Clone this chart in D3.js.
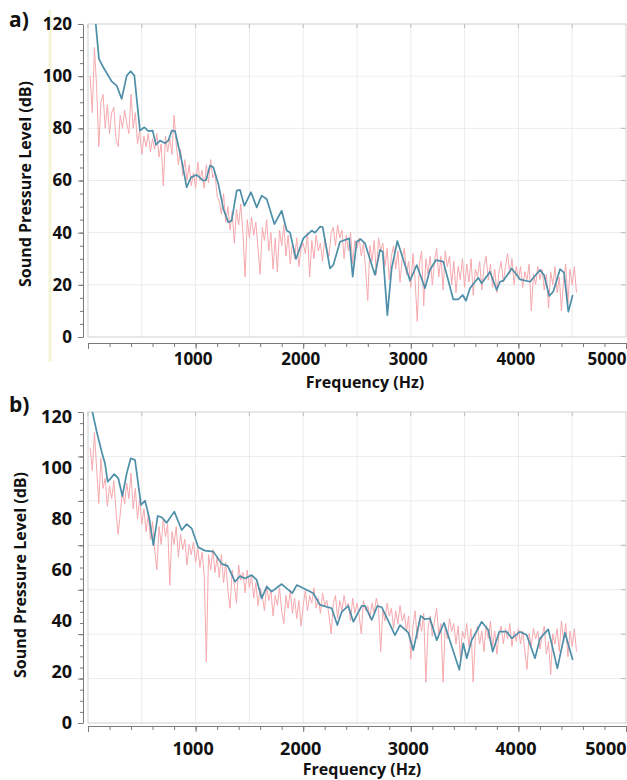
<!DOCTYPE html>
<html>
<head>
<meta charset="utf-8">
<script src="https://cdn.jsdelivr.net/npm/d3@7"></script>
<style>
  body { margin: 0; background: #fff; }
  svg text { font-family: "Open Sans", sans-serif; font-weight: 700; fill: #111; }
</style>
</head>
<body>
<script>
// ---- data ----
// smoothed spectrum (blue), panel a
var blueFreqA = [50, 102, 142, 220, 266, 313, 360, 397, 431, 483, 524, 561, 601, 632, 669, 716, 747, 778, 809, 871, 917, 957, 1010, 1072, 1097, 1134, 1165, 1211, 1258, 1304, 1335, 1382, 1413, 1453, 1515, 1568, 1614, 1661, 1732, 1800, 1847, 1877, 1933, 2001, 2079, 2110, 2156, 2181, 2249, 2280, 2342, 2428, 2460, 2497, 2534, 2574, 2667, 2714, 2739, 2782, 2822, 2875, 2993, 3055, 3132, 3178, 3234, 3302, 3395, 3441, 3482, 3513, 3550, 3627, 3659, 3736, 3798, 3829, 3860, 3938, 4015, 4108, 4201, 4238, 4287, 4324, 4387, 4424, 4464, 4505];
var blueDbA = [130, 106.6, 103.4, 98.0, 96.4, 91.3, 100.2, 101.9, 100.2, 79.1, 80.4, 78.9, 79.1, 73.7, 75.3, 74.3, 75.3, 79.1, 78.9, 67.6, 57.4, 61.2, 62.2, 59.9, 60.2, 65.7, 65.1, 58.7, 49.1, 44.0, 44.6, 56.1, 56.4, 50.3, 55.5, 49.7, 54.2, 52.9, 43.3, 48.4, 40.8, 40.1, 29.9, 37.8, 40.8, 40.0, 42.3, 42.1, 26.3, 27.6, 36.5, 37.8, 23.1, 36.5, 37.5, 35.9, 23.8, 33.4, 32.7, 8.4, 26.3, 36.8, 21.6, 27.6, 18.7, 25.7, 29.5, 28.9, 14.4, 14.4, 16.1, 13.9, 18.7, 22.7, 20.6, 25.0, 18.0, 21.2, 21.6, 26.3, 22.1, 21.2, 25.7, 23.8, 15.7, 17.4, 26.0, 24.7, 9.7, 16.1];

// raw spectrum (pink), panel a, bins of 20 Hz starting at 20 Hz
var pinkDbA = [100, 86, 111, 96, 73, 90, 93, 80, 89, 78, 86, 88, 76, 73, 85, 80, 87, 82, 78, 93, 80, 86, 74, 79, 70,
  77, 73, 78, 71, 76, 72, 78, 69, 74, 58, 77, 71, 76, 70, 85, 74, 66, 72, 62, 68, 60, 66, 58, 63, 57,
  67, 60, 64, 57, 66, 59, 68, 61, 63, 54, 52, 47, 55, 44, 50, 41, 48, 36, 49, 43, 51, 40, 23, 45, 38,
  46, 39, 44, 34, 24, 42, 37, 45, 33, 40, 26, 38, 25, 41, 35, 43, 31, 39, 28, 36, 30, 38, 27, 34, 36,
  32, 40, 23, 37, 30, 39, 33, 36, 29, 38, 34, 31, 40, 42, 35, 43, 38, 41, 30, 39, 33, 40, 28, 37, 34,
  38, 31, 36, 26, 14, 35, 29, 37, 24, 38, 33, 36, 27, 34, 22, 31, 35, 26, 33, 21, 30, 34, 24, 29, 19,
  32, 22, 6, 28, 33, 12, 30, 24, 31, 20, 29, 34, 23, 31, 18, 33, 27, 31, 20, 29, 17, 27, 22, 30, 19,
  28, 21, 30, 16, 26, 23, 29, 18, 27, 31, 22, 28, 19, 26, 17, 25, 29, 21, 27, 32, 24, 30, 20, 27, 22,
  27, 19, 25, 22, 28, 10, 24, 20, 27, 22, 26, 18, 24, 11, 25, 20, 27, 17, 23, 10, 22, 28, 13, 26, 20, 27, 17];

// smoothed spectrum (blue), panel b
var blueFreqB = [20, 81, 127, 158, 183, 244, 282, 319, 360, 397, 437, 493, 530, 567, 607, 648, 685, 731, 802, 871, 917, 964, 1025, 1087, 1165, 1243, 1298, 1366, 1413, 1459, 1521, 1568, 1614, 1661, 1707, 1800, 1899, 1940, 1970, 2094, 2156, 2265, 2317, 2358, 2419, 2466, 2544, 2574, 2637, 2689, 2730, 2853, 2900, 2977, 3023, 3092, 3132, 3178, 3241, 3309, 3451, 3488, 3520, 3566, 3659, 3720, 3761, 3823, 3891, 3938, 4015, 4077, 4154, 4201, 4278, 4362, 4433, 4505];
var blueDbB = [126, 114.2, 106.4, 101.8, 94.6, 97.6, 95.9, 89.0, 97.9, 103.8, 103.1, 85.5, 87.2, 80.9, 69.8, 81.2, 80.7, 78.5, 82.9, 75.7, 78.0, 76.3, 68.9, 67.6, 67.2, 62.4, 61.6, 55.4, 57.6, 56.7, 58.0, 56.1, 48.9, 53.5, 51.5, 54.5, 50.9, 54.1, 53.5, 50.9, 46.3, 45.0, 38.4, 43.6, 45.9, 39.7, 45.9, 45.9, 40.4, 45.9, 45.4, 34.5, 38.4, 35.4, 28.6, 42.0, 40.7, 41.0, 32.5, 39.3, 20.9, 31.2, 25.4, 32.5, 39.7, 36.5, 28.0, 35.8, 35.8, 33.2, 35.8, 34.5, 25.4, 33.2, 36.7, 21.4, 35.4, 24.7];

// raw spectrum (pink), panel b, same 20 Hz bins
var pinkDbB = [108, 99, 114, 100, 86, 104, 92, 96, 85, 93, 88, 95, 83, 74, 82, 91, 86, 94, 88, 98, 84, 92, 80, 88, 78,
  84, 75, 82, 72, 79, 68, 60, 77, 70, 80, 73, 78, 54, 75, 70, 77, 65, 74, 68, 72, 62, 70, 66, 71, 63,
  69, 61, 67, 58, 24, 66, 60, 68, 59, 65, 57, 66, 55, 63, 52, 45, 60, 54, 47, 62, 56, 59, 51, 60, 53,
  58, 49, 55, 46, 53, 50, 44, 54, 48, 52, 42, 50, 46, 53, 44, 39, 50, 45, 52, 43, 49, 41, 48, 38, 46,
  52, 44, 50, 47, 53, 45, 49, 43, 51, 46, 48, 42, 35, 47, 50, 41, 48, 44, 50, 45, 47, 40, 49, 43, 47,
  42, 35, 48, 44, 46, 41, 47, 43, 49, 45, 28, 44, 40, 47, 42, 45, 37, 44, 39, 46, 40, 43, 36, 42, 25,
  38, 44, 33, 41, 36, 43, 16, 37, 42, 34, 40, 45, 35, 39, 16, 38, 33, 41, 36, 39, 31, 38, 26, 36, 33,
  39, 30, 37, 16, 34, 38, 31, 36, 28, 38, 33, 40, 30, 36, 27, 35, 38, 31, 37, 33, 39, 30, 36, 32, 37,
  31, 36, 28, 21, 35, 30, 37, 33, 36, 29, 34, 38, 27, 32, 19, 35, 31, 37, 28, 40, 32, 39, 26, 36, 30, 37, 28];

var pinkStartHz = 20, pinkStepHz = 20;
var xTickLabels = [1000, 2000, 3000, 4000, 5000];
var yTickLabels = [0, 20, 40, 60, 80, 100, 120];

var width = 627, height = 780;
var blue = "#4d8ea8", pink = "#f6a9ae";

var svg = d3.select("body").append("svg")
    .attr("width", width)
    .attr("height", height);

// shared frequency scale (both panels use the same box left/right)
var x = d3.scaleLinear().domain([0, 5000]).range([88, 626]);

function pinkPoints(vals) {
  return vals.map(function(v, i) { return [pinkStartHz + i * pinkStepHz, v]; });
}

function drawPanel(p) {
  var g = svg.append("g");
  // y scale used for the data and the tick labels
  var y = d3.scaleLinear().domain([0, 120]).range([p.bottom, p.labelTop]);
  // scale of the grid / tick marks (in panel b it does not match the labels)
  var yg = d3.scaleLinear().domain([0, p.gridMax]).range([p.bottom, p.top]);

  // grid
  g.selectAll(".vgrid").data(d3.range(500, 5000, 500)).enter().append("line")
    .attr("x1", function(d) { return x(d); }).attr("x2", function(d) { return x(d); })
    .attr("y1", p.top).attr("y2", p.bottom)
    .attr("stroke", "#e9ecee").attr("stroke-width", 1);
  g.selectAll(".hgrid").data(d3.range(20, p.gridMax, 20)).enter().append("line")
    .attr("x1", x(0)).attr("x2", x(5000))
    .attr("y1", function(d) { return yg(d); }).attr("y2", function(d) { return yg(d); })
    .attr("stroke", "#e9ecee").attr("stroke-width", 1);

  // small inner ticks on top and right border
  g.selectAll(".tt").data(d3.range(0, 5000, 500)).enter().append("line")
    .attr("x1", function(d) { return x(d); }).attr("x2", function(d) { return x(d); })
    .attr("y1", p.top).attr("y2", p.top + 4)
    .attr("stroke", "#bbb");
  g.selectAll(".rt").data(d3.range(20, p.gridMax, 20)).enter().append("line")
    .attr("x1", x(5000) - 5).attr("x2", x(5000))
    .attr("y1", function(d) { return yg(d); }).attr("y2", function(d) { return yg(d); })
    .attr("stroke", "#bbb");

  // plot frame
  g.append("rect")
    .attr("x", x(0)).attr("y", p.top)
    .attr("width", x(5000) - x(0)).attr("height", p.bottom - p.top)
    .attr("fill", "none").attr("stroke", "#cdd0d2");

  // clip for the lines
  var clipId = "clip" + p.name;
  svg.append("clipPath").attr("id", clipId).append("rect")
    .attr("x", x(0)).attr("y", p.top)
    .attr("width", x(5000) - x(0)).attr("height", p.bottom - p.top);

  var line = d3.line()
    .x(function(d) { return x(d[0]); })
    .y(function(d) { return y(d[1]); });

  g.append("path")
    .datum(pinkPoints(p.pink))
    .attr("clip-path", "url(#" + clipId + ")")
    .attr("d", line)
    .attr("fill", "none")
    .attr("stroke", pink)
    .attr("stroke-width", 1);

  g.append("path")
    .datum(p.blueFreq.map(function(f, i) { return [f, p.blueDb[i]]; }))
    .attr("clip-path", "url(#" + clipId + ")")
    .attr("d", line)
    .attr("fill", "none")
    .attr("stroke", blue)
    .attr("stroke-width", 1.7)
    .attr("stroke-linejoin", "round");

  // y axis: minor + major ticks on the grid scale
  var yAxisG = g.append("g").attr("transform", "translate(83,0)");
  yAxisG.call(d3.axisLeft(yg).tickValues(d3.range(0, p.gridMax + 1, 5)).tickSize(3).tickSizeOuter(0).tickFormat(""));
  yAxisG.append("g").call(d3.axisLeft(yg).tickValues(d3.range(0, p.gridMax + 1, 20)).tickSize(5).tickFormat(""))
    .select(".domain").remove();
  yAxisG.selectAll("path, line").attr("stroke", "#7a7a7a");

  // y tick labels
  var yLab = g.append("g").attr("transform", "translate(83,0)")
    .call(d3.axisLeft(y).tickValues(yTickLabels).tickSize(0).tickPadding(11).tickFormat(d3.format("d")));
  yLab.select(".domain").remove();
  yLab.selectAll("text").style("font-size", p.tickFont + "px").attr("fill", "#111");

  // x axis
  var xAxisG = g.append("g").attr("transform", "translate(0," + p.xAxisY + ")");
  xAxisG.call(d3.axisBottom(x).tickValues(d3.range(0, 5001, 200)).tickSize(4).tickSizeOuter(0).tickFormat(""));
  xAxisG.append("g").call(d3.axisBottom(x).tickValues(d3.range(0, 5001, 1000)).tickSize(6).tickFormat(""))
    .select(".domain").remove();
  xAxisG.selectAll("path, line").attr("stroke", "#7a7a7a");

  var xLab = g.append("g").attr("transform", "translate(0," + p.xAxisY + ")")
    .call(d3.axisBottom(x).tickValues(xTickLabels).tickSize(0).tickPadding(p.xPad).tickFormat(d3.format("d")));
  xLab.select(".domain").remove();
  xLab.selectAll("text")
    .style("font-size", p.tickFont + "px").attr("fill", "#111")
    .attr("dx", -3);
  // the last label sits flush with the right edge
  xLab.selectAll("text").filter(function(d) { return d === 5000; })
    .attr("text-anchor", "end").attr("dx", 0);

  // axis titles
  g.append("text")
    .attr("x", p.xTitleX).attr("y", p.xTitleY)
    .attr("text-anchor", "middle")
    .style("font-size", p.titleFont + "px")
    .text("Frequency (Hz)");
  g.append("text")
    .attr("transform", "translate(" + p.yTitleX + "," + p.yTitleY + ") rotate(-90)")
    .attr("text-anchor", "middle")
    .style("font-size", p.titleFont + "px")
    .text("Sound Pressure Level (dB)");

  // panel letter
  g.append("text")
    .attr("x", 9).attr("y", p.letterY)
    .style("font-size", "21px")
    .text(p.name + ")");
}

// faint yellow strip left of panel a
svg.append("line")
  .attr("x1", 50).attr("x2", 50).attr("y1", 10).attr("y2", 362)
  .attr("stroke", "#f4f4d6").attr("stroke-width", 3);

drawPanel({
  name: "a", top: 24, bottom: 337, labelTop: 24, gridMax: 120, xAxisY: 343,
  blueFreq: blueFreqA, blueDb: blueDbA, pink: pinkDbA,
  tickFont: 17, titleFont: 16, xPad: 10,
  xTitleX: 365, xTitleY: 388, yTitleX: 31, yTitleY: 184, letterY: 27
});

drawPanel({
  name: "b", top: 412, bottom: 723, labelTop: 417, gridMax: 140, xAxisY: 726,
  blueFreq: blueFreqB, blueDb: blueDbB, pink: pinkDbB,
  tickFont: 18, titleFont: 16, xPad: 16,
  xTitleX: 362, xTitleY: 775, yTitleX: 26, yTitleY: 575, letterY: 412
});
</script>
</body>
</html>
